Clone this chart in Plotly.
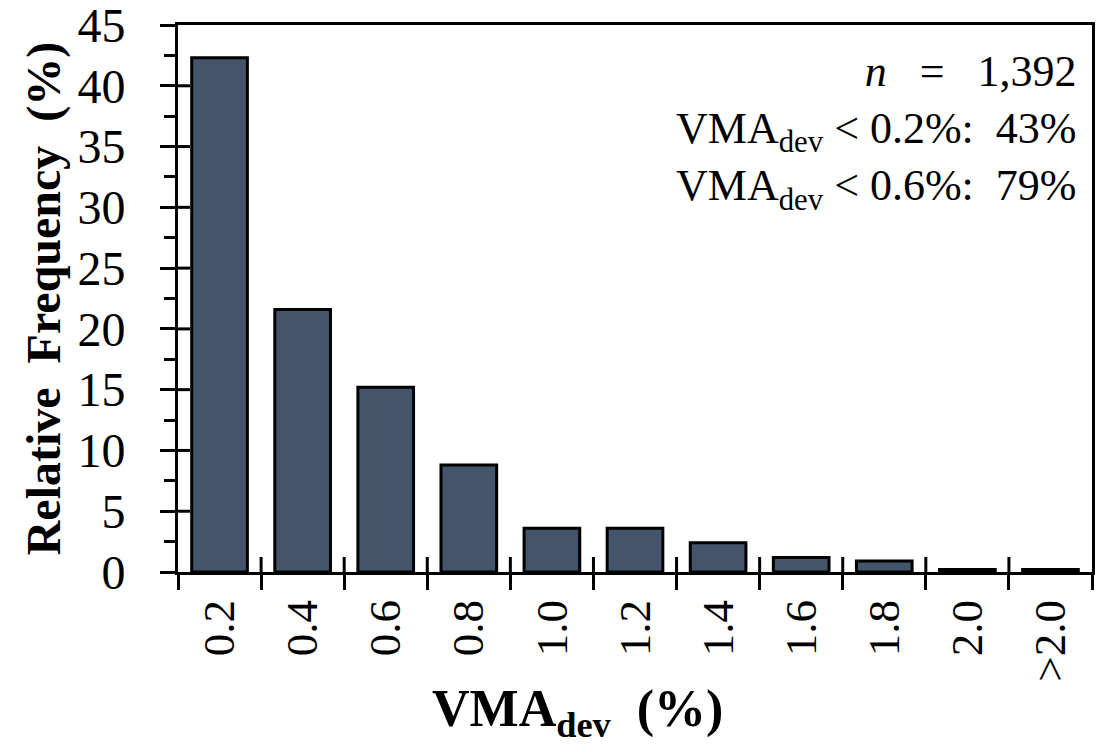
import plotly.graph_objects as go

categories = ["0.2", "0.4", "0.6", "0.8", "1.0", "1.2", "1.4", "1.6", "1.8", "2.0", ">2.0"]
rel_freq = [42.3, 21.6, 15.2, 8.8, 3.6, 3.6, 2.4, 1.2, 0.9, 0.2, 0.2]
y_ticks = [0, 5, 10, 15, 20, 25, 30, 35, 40, 45]

FONT = "Liberation Serif, Times New Roman, serif"
W, H = 1102, 752
ML, MR, MT, MB = 178, 10, 25, 180
PW, PH = W - ML - MR, H - MT - MB

fig = go.Figure()
fig.add_trace(go.Bar(
    x=categories, y=rel_freq,
    marker=dict(color="#44546A", line=dict(color="black", width=3)),
    showlegend=False,
))

shapes = []
# inner half of the crossing y ticks
for v in y_ticks[1:-1]:
    shapes.append(dict(type="line", xref="paper", yref="y", x0=0, x1=12 / PW, y0=v, y1=v,
                       line=dict(color="black", width=3)))
# inner half of the crossing x ticks (category boundaries)
for i in range(len(categories) - 1):
    shapes.append(dict(type="line", xref="x", yref="paper", x0=i + 0.5, x1=i + 0.5, y0=0, y1=15 / PH,
                       line=dict(color="black", width=3)))

fig.update_layout(
    width=W, height=H,
    margin=dict(l=ML, r=MR, t=MT, b=MB),
    plot_bgcolor="white", paper_bgcolor="white",
    bargap=0.33,
    font=dict(family=FONT, color="black"),
    shapes=shapes,
    xaxis=dict(
        type="category", tickson="boundaries", automargin=False,
        ticks="outside", ticklen=15, tickwidth=3, tickcolor="black",
        showline=True, linecolor="black", linewidth=3, mirror=True,
        showgrid=False, tickangle=-90, ticklabelstandoff=7,
        tickfont=dict(family=FONT, size=45, color="black"),
    ),
    yaxis=dict(
        range=[0, 45], tickvals=y_ticks, automargin=False,
        ticks="outside", ticklen=15, tickwidth=3, tickcolor="black",
        minor=dict(dtick=2.5, ticks="outside", ticklen=11, tickwidth=3, tickcolor="black"),
        showline=True, linecolor="black", linewidth=3, mirror=True,
        showgrid=False, zeroline=False, ticklabelstandoff=25,
        ticklabeloverflow="allow",
        tickfont=dict(family=FONT, size=48, color="black"),
        title=dict(text="<b>Relative&nbsp; Frequency&nbsp; (%)</b>", standoff=2,
                   font=dict(family=FONT, size=48, color="black")),
    ),
    annotations=[
        dict(xref="paper", yref="paper", x=(577 - ML) / PW, y=(MT + PH - 712) / PH,
             xanchor="center", yanchor="middle", showarrow=False,
             text="<b>VMA<sub>dev</sub>&nbsp; (%)</b>",
             font=dict(family=FONT, size=52, color="black")),
        dict(xref="paper", yref="paper", x=(1079 - ML) / PW, y=(MT + PH - 45) / PH,
             xanchor="right", yanchor="top", align="right", showarrow=False,
             text="<i>n</i>&nbsp;&nbsp; =&nbsp;&nbsp; 1,392<br>VMA<sub>dev</sub> &lt; 0.2%:&nbsp; 43%<br>VMA<sub>dev</sub> &lt; 0.6%:&nbsp; 79%",
             font=dict(family=FONT, size=44, color="black")),
    ],
)

fig.write_html("out.html", config={"displayModeBar": False},
               post_script="document.body.style.margin='0';")
